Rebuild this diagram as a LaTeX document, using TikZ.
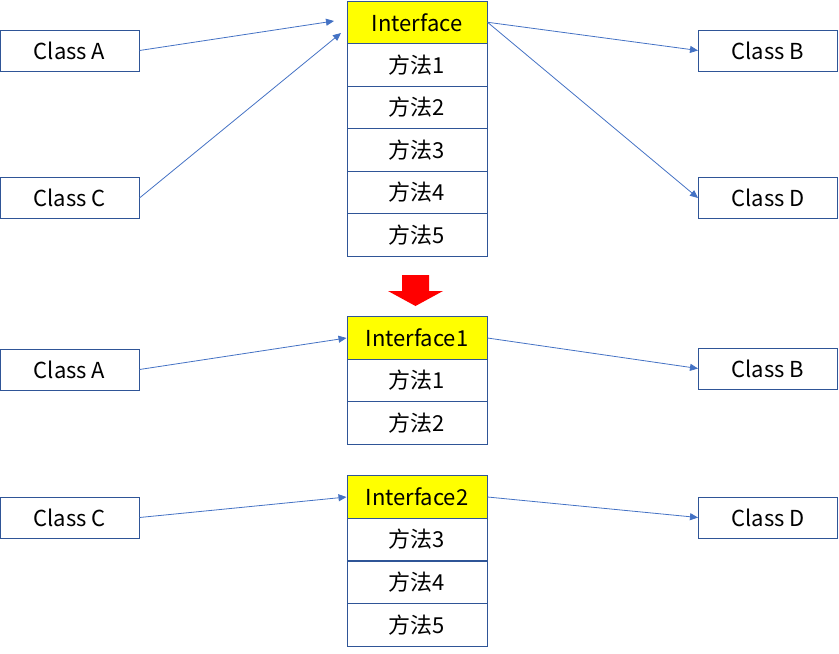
\documentclass[tikz,border=0pt]{standalone}
\usepackage{fontspec}
\setmainfont{Noto Sans CJK SC}
\usetikzlibrary{arrows.meta}
\definecolor{boxc}{HTML}{2F5597}
\definecolor{arrc}{HTML}{4472C4}
\definecolor{ifyel}{HTML}{FFFF00}
\begin{document}
\begin{tikzpicture}[x=1pt,y=-1pt,
  box/.style={draw=boxc,line width=1pt,fill=white,minimum width=139pt,minimum height=41pt,inner sep=0pt,font=\fontsize{22}{26}\selectfont},
  col/.style={draw=boxc,line width=1pt,fill=white,minimum width=140pt,minimum height=42.5pt,inner sep=0pt,font=\fontsize{22}{26}\selectfont},
  ifc/.style={col,fill=ifyel},
  conn/.style={draw=arrc,line width=0.8pt,-{Triangle[length=8pt,width=7pt]}}]
\useasboundingbox (0,0) rectangle (839,654);
% top section
\node[box] (ca1) at (69.5,50.5) {Class A};
\node[box] (cc1) at (69.5,198) {Class C};
\node[box] (cb1) at (768,50.5) {Class B};
\node[box] (cd1) at (768,198) {Class D};
\node[ifc] (if0) at (417,22.25) {Interface};
\node[col] (m1) at (417,64.75) {方法1};
\node[col] (m2) at (417,107.25) {方法2};
\node[col] (m3) at (417,149.75) {方法3};
\node[col] (m4) at (417,192.25) {方法4};
\node[col] (m5) at (417,234.75) {方法5};
\coordinate (ta) at (334,21);
\coordinate (tc) at (341,33);
\draw[conn] (ca1.east) -- (ta);
\draw[conn] (cc1.east) -- (tc);
\draw[conn] (if0.east) -- (cb1.west);
\draw[conn] (if0.east) -- (cd1.west);
% red arrow
\fill[red] (402,275) -- (429,275) -- (429,291) -- (443,291) -- (415.5,306) -- (388,291) -- (402,291) -- cycle;
% second section
\node[box] (ca2) at (69.5,369.5) {Class A};
\node[box] (cb2) at (768,368.5) {Class B};
\node[ifc] (if1) at (417,338) {Interface1};
\node[col] (n1) at (417,380.5) {方法1};
\node[col] (n2) at (417,423) {方法2};
\draw[conn] (ca2.east) -- (if1.west);
\draw[conn] (if1.east) -- (cb2.west);
% third section
\node[box] (cc3) at (69.5,517.5) {Class C};
\node[box] (cd3) at (768,517.5) {Class D};
\node[ifc] (if2) at (417,497) {Interface2};
\node[col] (p3) at (417,539.5) {方法3};
\node[col] (p4) at (417,582.25) {方法4};
\node[col] (p5) at (417,625) {方法5};
\draw[conn] (cc3.east) -- (if2.west);
\draw[conn] (if2.east) -- (cd3.west);
\end{tikzpicture}
\end{document}
